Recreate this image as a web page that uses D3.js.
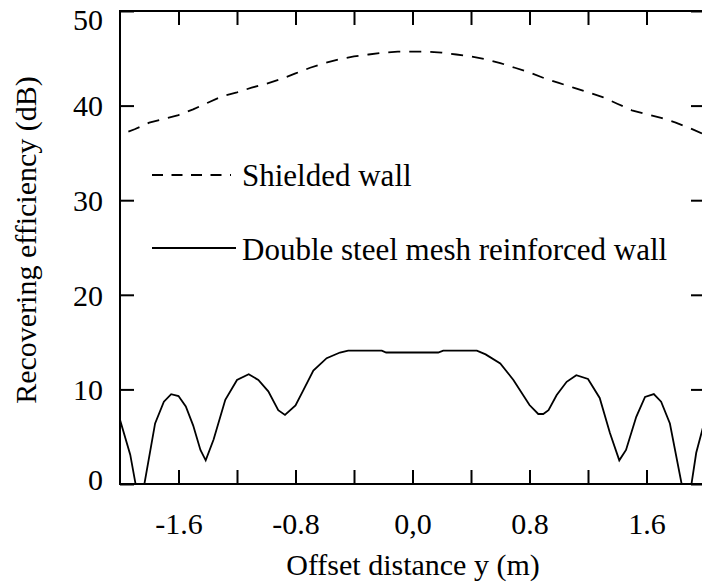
<!DOCTYPE html>
<html>
<head>
<meta charset="utf-8">
<script src="https://cdn.jsdelivr.net/npm/d3@7/dist/d3.min.js"></script>
<style>
  html, body { margin: 0; padding: 0; background: #fff; }
  svg { display: block; }
</style>
</head>
<body>
<svg id="chart" width="702" height="588"></svg>
<script>
// Offset positions (m) and recovering efficiency (dB) for the shielded wall
const shieldedX = [-2.0,-1.9,-1.8,-1.7,-1.6,-1.5,-1.4,-1.3,-1.2,-1.1,-1.0,-0.9,-0.8,-0.7,-0.6,-0.5,-0.4,-0.3,-0.2,-0.1,
                   0.0,0.1,0.2,0.3,0.4,0.5,0.6,0.7,0.8,0.9,1.0,1.1,1.2,1.3,1.4,1.5,1.6,1.7,1.8,1.9,2.0];
const shieldedY = [36.9,37.5,38.2,38.6,39.0,39.6,40.3,41.0,41.4,41.9,42.3,42.8,43.4,44.0,44.5,44.9,45.2,45.4,45.6,45.7,
                   45.7,45.7,45.6,45.4,45.2,44.9,44.5,44.0,43.5,42.9,42.4,41.9,41.4,40.9,40.2,39.5,39.1,38.7,38.2,37.6,36.9];

// Double steel mesh reinforced wall
const meshX = [-2.00,-1.93,-1.863,-1.76,-1.70,-1.65,-1.60,-1.55,-1.50,-1.45,-1.414,-1.36,-1.28,-1.20,-1.12,-1.054,-0.986,-0.918,-0.872,-0.80,
               -0.747,-0.678,-0.587,-0.496,-0.44,-0.21,-0.18,0.176,0.21,0.44,0.50,0.60,0.69,0.80,0.86,0.894,0.93,0.986,1.054,1.12,
               1.20,1.28,1.35,1.414,1.46,1.53,1.59,1.65,1.70,1.76,1.878,1.94,2.00];
const meshY = [6.8,3.1,-2.6,6.4,8.7,9.5,9.3,8.2,6.2,3.6,2.5,4.7,8.9,11.0,11.6,11.0,9.8,7.8,7.3,8.3,
               9.9,12.0,13.3,13.9,14.1,14.1,13.9,13.9,14.1,14.1,13.7,12.75,11.0,8.35,7.4,7.4,7.8,9.4,10.8,11.5,
               11.1,9.1,5.4,2.5,3.6,7.1,9.2,9.5,8.7,6.4,-3.0,3.3,6.8];

// Axis ticks and labels
const xTickValues = [-1.6,-1.2,-0.8,-0.4,0.0,0.4,0.8,1.2,1.6];
const xTickLabels = {"-1.6": "-1.6", "-0.8": "-0.8", "0": "0,0", "0.8": "0.8", "1.6": "1.6"};
const yTickValues = [0,10,20,30,40,50];

const seriesNames = ["Shielded wall", "Double steel mesh reinforced wall"];

const FONT = "'Liberation Serif', Tinos, 'Times New Roman', Times, 'Nimbus Roman', 'DejaVu Serif', serif";

const svg = d3.select("#chart");
const plotLeft = 120, plotRight = 705, plotTop = 11, plotBottom = 484;

const x = d3.scaleLinear().domain([-2, 2]).range([plotLeft, plotRight]);
const y = d3.scaleLinear().domain([0, 50]).range([plotBottom, plotTop]);

svg.append("defs").append("clipPath").attr("id", "plotClip")
  .append("rect").attr("x", plotLeft).attr("y", plotTop)
  .attr("width", plotRight - plotLeft).attr("height", plotBottom - plotTop);

const tickLen = 14;

// Bottom axis with inward ticks
const xAxis = svg.append("g").attr("transform", `translate(0,${plotBottom})`)
  .call(d3.axisBottom(x).tickValues(xTickValues).tickSizeInner(-tickLen).tickSizeOuter(0)
    .tickFormat(d => xTickLabels[String(+d.toFixed(1))] || ""));
xAxis.attr("font-family", FONT).attr("font-size", 30);
xAxis.selectAll("text").attr("y", 50).attr("dy", 0);

// Top axis
svg.append("g").attr("transform", `translate(0,${plotTop})`)
  .call(d3.axisTop(x).tickValues(xTickValues).tickSizeInner(-tickLen).tickSizeOuter(0).tickFormat(""));

// Left axis
const yAxis = svg.append("g").attr("transform", `translate(${plotLeft},0)`)
  .call(d3.axisLeft(y).tickValues(yTickValues).tickSizeInner(-tickLen).tickSizeOuter(0).tickPadding(17));
yAxis.attr("font-family", FONT).attr("font-size", 30);
yAxis.selectAll("text")
  .attr("dy", d => d === 0 ? "0.18em" : d === 50 ? "0.6em" : "0.34em");

// Right axis
svg.append("g").attr("transform", `translate(${plotRight},0)`)
  .call(d3.axisRight(y).tickValues(yTickValues).tickSizeInner(-tickLen).tickSizeOuter(0).tickFormat(""));

svg.selectAll(".domain").remove();
svg.selectAll(".tick line").attr("stroke", "#000").attr("stroke-width", 2);
svg.selectAll(".tick text").attr("fill", "#000");

// Frame
svg.append("rect").attr("x", plotLeft).attr("y", plotTop)
  .attr("width", plotRight - plotLeft).attr("height", plotBottom - plotTop)
  .attr("fill", "none").attr("stroke", "#000").attr("stroke-width", 2);

const line = d3.line().x(d => x(d[0])).y(d => y(d[1]));

const plot = svg.append("g").attr("clip-path", "url(#plotClip)");
plot.append("path")
  .datum(d3.zip(shieldedX, shieldedY))
  .attr("d", line).attr("fill", "none").attr("stroke", "#000")
  .attr("stroke-width", 1.8).attr("stroke-dasharray", "12,9").attr("stroke-dashoffset", 12);
plot.append("path")
  .datum(d3.zip(meshX, meshY))
  .attr("d", line).attr("fill", "none").attr("stroke", "#000")
  .attr("stroke-width", 1.8);

// Legend
const legend = svg.append("g").attr("font-family", FONT).attr("font-size", 31);
legend.append("line").attr("x1", 152).attr("x2", 231).attr("y1", 175).attr("y2", 175)
  .attr("stroke", "#000").attr("stroke-width", 1.8).attr("stroke-dasharray", "11,8.5");
legend.append("text").attr("x", 242).attr("y", 186).text(seriesNames[0]);
legend.append("line").attr("x1", 152).attr("x2", 236).attr("y1", 248).attr("y2", 248)
  .attr("stroke", "#000").attr("stroke-width", 1.8);
legend.append("text").attr("x", 242).attr("y", 260).text(seriesNames[1]);

// Axis titles
const titles = svg.append("g").attr("font-family", FONT).attr("font-size", 30);
titles.append("text").attr("x", 413).attr("y", 575).attr("text-anchor", "middle")
  .text("Offset distance y (m)");
titles.append("text").attr("transform", "translate(36,240) rotate(-90)").attr("text-anchor", "middle")
  .text("Recovering efficiency (dB)");
</script>
</body>
</html>
